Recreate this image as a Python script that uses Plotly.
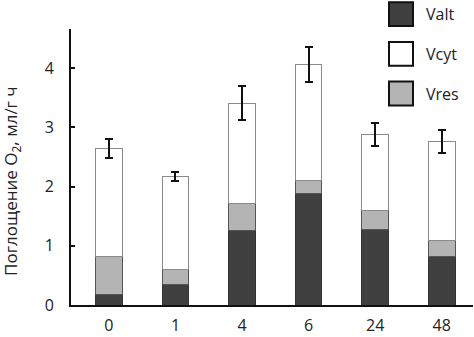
import plotly.graph_objects as go

categories = ["0", "1", "4", "6", "24", "48"]
valt = [0.17, 0.35, 1.25, 1.89, 1.28, 0.82]
vres = [0.65, 0.25, 0.46, 0.21, 0.32, 0.27]
vcyt = [1.82, 1.57, 1.70, 1.96, 1.28, 1.67]
err = [0.16, 0.07, 0.29, 0.30, 0.19, 0.19]
y_ticks = [0, 1, 2, 3, 4]
legend_names = ["Valt", "Vcyt", "Vres"]

W, H = 474, 337
L, R, T, B = 71, 1, 29, 30
pw, ph = W - L - R, H - T - B

col_alt, col_cyt, col_res = "#404040", "#ffffff", "#b4b4b4"
font = "Open Sans, DejaVu Sans, sans-serif"

fig = go.Figure()
fig.add_trace(go.Bar(x=categories, y=valt, name="Valt", width=0.4,
                     marker=dict(color=col_alt, line=dict(color="#333333", width=1))))
fig.add_trace(go.Bar(x=categories, y=vres, name="Vres", width=0.4,
                     marker=dict(color=col_res, line=dict(color="#555555", width=1))))
fig.add_trace(go.Bar(x=categories, y=vcyt, name="Vcyt", width=0.4,
                     marker=dict(color=col_cyt, line=dict(color="#8a8a8a", width=1)),
                     error_y=dict(type="data", array=err, visible=True,
                                  color="#111111", thickness=2, width=4)))

def px(x):
    return (x - L) / pw

def py(y):
    return (H - B - y) / ph

shapes = []
annotations = []
leg_cols = {"Valt": col_alt, "Vcyt": col_cyt, "Vres": col_res}
for i, name in enumerate(legend_names):
    y0 = 2 + i * 40
    shapes.append(dict(type="rect", xref="paper", yref="paper",
                       x0=px(389), x1=px(413), y0=py(y0 + 24), y1=py(y0),
                       fillcolor=leg_cols[name], line=dict(color="#111111", width=2)))
    annotations.append(dict(xref="paper", yref="paper", x=px(424), y=py(y0 + 12),
                            text=name, showarrow=False, xanchor="left", yanchor="middle",
                            font=dict(family=font, size=16, color="#222222")))

annotations.append(dict(xref="paper", yref="paper", x=px(12), y=py(182),
                        text="Поглощение O<sub>2</sub>, мл/г ч", textangle=-90,
                        showarrow=False, xanchor="center", yanchor="middle",
                        font=dict(family=font, size=17, color="#222222")))

fig.update_layout(
    width=W, height=H,
    margin=dict(l=L, r=R, t=T, b=B),
    barmode="stack",
    showlegend=False,
    plot_bgcolor="white", paper_bgcolor="white",
    font=dict(family=font, size=16, color="#222222"),
    shapes=shapes, annotations=annotations,
    xaxis=dict(type="category", range=[-0.57, 5.47], showline=True,
               linecolor="#111111", linewidth=2, ticks="", showgrid=False,
               tickfont=dict(size=16), ticklabelstandoff=5),
    yaxis=dict(range=[0, 4.66], tickvals=y_ticks, showline=True,
               linecolor="#111111", linewidth=2, ticks="inside", ticklen=4,
               tickcolor="#111111", tickwidth=1.5, showgrid=False, zeroline=False,
               tickfont=dict(size=16), ticklabelstandoff=12),
)

fig.write_html("out.html", config={"displayModeBar": False},
               post_script="document.body.style.margin='0';document.body.style.overflow='hidden';")
